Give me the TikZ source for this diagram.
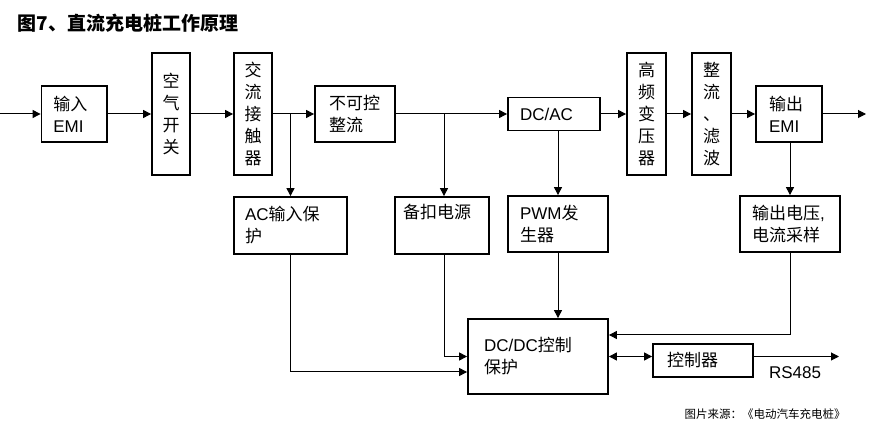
\documentclass[tikz,border=0pt]{standalone}
\usepackage{fontspec}
\setmainfont{Liberation Sans}
\newfontfamily\cjk{Noto Sans CJK SC}
\usetikzlibrary{arrows.meta}
\newcommand\zh[1]{{\cjk #1}}
\begin{document}
\begin{tikzpicture}[x=1pt,y=-1pt,
  blk/.style={draw, line width=1.8pt, inner sep=0pt, align=left, font=\fontsize{17}{22}\selectfont},
  vbox/.style={draw, line width=1.8pt, inner sep=0pt, minimum width=38pt, minimum height=122pt, align=center, font=\cjk\fontsize{17}{22}\selectfont},
  tip/.style={-{Triangle[length=8pt,width=8pt]}},
  con/.style={line width=1pt, tip}]
\useasboundingbox (0,0) rectangle (879,430);

\node[anchor=west, font=\cjk\bfseries\fontsize{19}{22}\selectfont] (title) at (14,23) {图7、直流充电桩工作原理};

% top row
\node[blk, minimum width=65.5pt, minimum height=56pt, text width=42pt] (emi) at (74.25,114) {\zh{输入}\\EMI};
\node[vbox] (air) at (171,114) {空\\气\\开\\关};
\node[vbox] (jc) at (253,114) {交\\流\\接\\触\\器};
\node[blk, minimum width=80pt, minimum height=56pt, text width=52pt] (bkz) at (355,114) {\zh{不可控}\\\zh{整流}};
\node[blk, minimum width=92pt, minimum height=33pt, text width=68pt] (dcac) at (554,114) {DC/AC};
\node[vbox, minimum width=39pt] (hf) at (646.5,114) {高\\频\\变\\压\\器};
\node[vbox, minimum width=39pt] (zl) at (711.5,114) {整\\流\\、\\滤\\波};
\node[blk, minimum width=66pt, minimum height=56pt, text width=40pt] (oemi) at (789,114) {\zh{输出}\\EMI};

% middle row
\node[blk, minimum width=113pt, minimum height=57pt, text width=91pt] (acp) at (290.5,225.5) {AC\zh{输入保}\\\zh{护}};
\node[blk, minimum width=94pt, minimum height=57pt, text width=78pt] (bk) at (442,225.5) {\zh{备扣电源}\\\strut};
\node[blk, minimum width=100pt, minimum height=56pt, text width=76pt] (pwm) at (558,224) {PWM\zh{发}\\\zh{生器}};
\node[blk, minimum width=100pt, minimum height=56pt, text width=76pt] (vs) at (790,224) {\zh{输出电压},\\\zh{电流采样}};

% bottom row
\node[blk, minimum width=140pt, minimum height=75pt, text width=108pt] (dcdc) at (538,356.5) {DC/DC\zh{控制}\\\zh{保护}};
\node[blk, minimum width=100pt, minimum height=33pt, text width=72pt] (ctrl) at (703,360.5) {\zh{控制器}};

\node[font=\fontsize{17}{22}\selectfont] (rslbl) at (795,373) {RS485};
\node[anchor=west, font=\cjk\fontsize{11.5}{13}\selectfont] (src) at (681,414) {图片来源：《电动汽车充电桩》};

% connectors
\coordinate (in) at (0,114);
\coordinate (out) at (866,114);
\coordinate (rs) at (839,356.5);
\draw[con] (in) -- (emi);
\draw[con] (emi) -- (air);
\draw[con] (air) -- (jc);
\draw[con] (jc) -- (bkz);
\draw[con] (acp.north |- jc.east) -- (acp.north);
\draw[con] (bkz) -- (dcac);
\draw[con] ([xshift=2pt]bk.north |- bkz.east) -- ([xshift=2pt]bk.north);
\draw[con] (dcac) -- (hf);
\draw[con] (hf) -- (zl);
\draw[con] (zl) -- (oemi);
\draw[con] (oemi) -- (out);
\draw[con] (pwm.north |- dcac.south) -- (pwm.north);
\draw[con] (vs.north |- oemi.south) -- (vs.north);
\draw[con] (acp.south) |- ([yshift=-15.5pt]dcdc.west);
\draw[con] ([xshift=2pt]bk.south) |- (dcdc.west);
\draw[con] (pwm.south) -- (pwm.south |- dcdc.north);
\draw[con] (vs.south) |- ([yshift=21.5pt]dcdc.east);
\draw[con, {Triangle[length=8pt,width=8pt]}-{Triangle[length=8pt,width=8pt]}] (dcdc.east) -- (dcdc.east -| ctrl.west);
\draw[con] (ctrl.east |- dcdc.east) -- (rs);
\end{tikzpicture}
\end{document}
